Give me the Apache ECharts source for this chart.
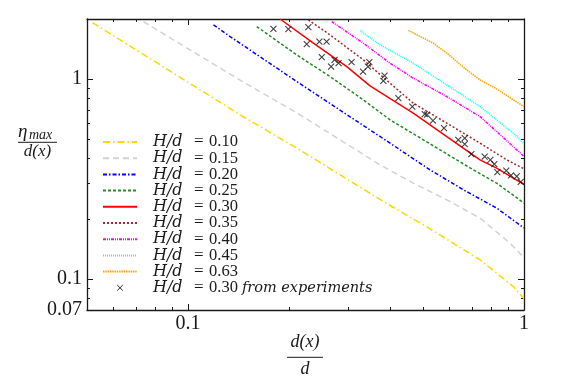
<!DOCTYPE html>
<html><head><meta charset="utf-8">
<script src="https://cdn.jsdelivr.net/npm/echarts@6/dist/echarts.min.js"></script>
<style>html,body{margin:0;padding:0;background:#fff}#c{width:582px;height:388px}</style>
</head><body><div id="c"></div>
<script>
// ---- data ----
const hd010 = [[0.0519,1.919],[0.1429,0.663],[0.2106,0.452],[0.3813,0.2443],[0.5016,0.1869],[0.7396,0.1249],[0.929,0.0918],[1.0,0.080]];
const hd015 = [[0.0736,1.94],[0.1396,1.012],[0.2154,0.663],[0.3727,0.3728],[0.468,0.302],[0.589,0.249],[0.7396,0.2018],[0.908,0.1514],[1.0,0.128]];
const hd020 = [[0.119,1.868],[0.1334,1.633],[0.2106,0.973],[0.3858,0.497],[0.525,0.352],[0.66,0.2796],[0.829,0.2265],[1.0,0.180]];
const hd025 = [[0.1601,1.832],[0.2106,1.323],[0.2647,1.03],[0.3324,0.788],[0.3992,0.626],[0.5623,0.443],[0.7065,0.352],[0.829,0.302],[1.0,0.240]];
const hd030 = [[0.1878,2.0],[0.236,1.514],[0.2967,1.156],[0.348,0.925],[0.468,0.676],[0.589,0.516],[0.7396,0.395],[0.829,0.359],[0.929,0.32],[1.0,0.298]];
const hd035 = [[0.228,1.98],[0.2647,1.665],[0.3324,1.249],[0.3992,0.955],[0.468,0.7586],[0.589,0.6026],[0.7396,0.4786],[0.888,0.395],[1.0,0.356]];
const hd040 = [[0.2677,1.941],[0.3324,1.514],[0.3992,1.202],[0.468,1.012],[0.589,0.8185],[0.7396,0.65],[0.929,0.46],[1.0,0.41]];
const hd045 = [[0.325,1.75],[0.3727,1.484],[0.468,1.202],[0.589,0.936],[0.7396,0.7295],[0.929,0.537],[1.0,0.475]];
const hd063 = [[0.4525,1.754],[0.537,1.514],[0.589,1.349],[0.6753,1.113],[0.7396,0.992],[0.829,0.894],[0.929,0.788],[1.0,0.73]];
const expPoints = [[0.1795,1.785],[0.1988,1.781],[0.228,1.820],[0.2255,1.496],[0.2459,1.542],[0.2584,1.542],[0.25,1.288],[0.2665,1.156],[0.2729,1.249],[0.2805,1.202],[0.3066,1.216],[0.3317,1.091],[0.3432,1.156],[0.3464,1.216],[0.3813,0.9806],[0.3845,1.042],[0.4226,0.8035],[0.4651,0.7295],[0.5064,0.669],[0.5144,0.665],[0.5358,0.620],[0.5779,0.569],[0.6373,0.497],[0.666,0.507],[0.666,0.473],[0.6969,0.422],[0.7638,0.410],[0.794,0.395],[0.8159,0.376],[0.8328,0.343],[0.8857,0.349],[0.9147,0.330],[0.9513,0.326],[0.9777,0.3065]];
const hdLabels = ['0.10','0.15','0.20','0.25','0.30','0.35','0.40','0.45','0.63'];
const expLabel = '0.30';
const xMajorTicks = [0.1, 1];
const xMinorTicks = [0.06,0.07,0.08,0.09,0.2,0.3,0.4,0.5,0.6,0.7,0.8,0.9];
const yMajorTicks = [0.1, 1];
const yMinorTicks = [0.07,0.08,0.09,0.2,0.3,0.4,0.5,0.6,0.7,0.8,0.9];
const xTickLabels = [0.1, 1];
const yTickLabels = [0.07, 0.1, 1];

// ---- styles ----
const curves = [hd010,hd015,hd020,hd025,hd030,hd035,hd040,hd045,hd063];
const curveStyles = [
  {color:'#ffd700', type:[7,3,1.5,3]},
  {color:'#d3d3d3', type:[6,4]},
  {color:'#0000ff', type:[4,2,1.5,2]},
  {color:'#228b22', type:[3,2]},
  {color:'#ff0000', type:'solid'},
  {color:'#a52a2a', type:[2,2]},
  {color:'#ff00ff', type:[3,1,1,1,1,1]},
  {color:'#00ffff', type:[1,1]},
  {color:'#ffa500', type:[1.5,0.8]}
];
const XMIN = 0.05, XMAX = 1, YMIN = 0.07, YMAX = 2;
const serif = 'Liberation Serif';
const mathSerif = 'DejaVu Serif';
const ink = '#1a1a1a';

function mkAxis(pos, min, max, ticks, len, showLine, labelVals, margin) {
  return {
    type:'log', logBase:10, min:min, max:max, position:pos,
    axisLine:{show:showLine, onZero:false, lineStyle:{color:ink, width:1.3}},
    axisTick:{show:true, inside:true, length:len, customValues:ticks, lineStyle:{color:ink, width:1}},
    axisLabel: labelVals ? {show:true, customValues:labelVals, margin:margin,
      formatter:function(v){return String(+Number(v).toPrecision(2));},
      fontFamily:serif, fontSize:20, color:ink} : {show:false},
    splitLine:{show:false}, minorTick:{show:false}, minorSplitLine:{show:false}
  };
}

const crossPath = 'path://M0,0M14,14M4.2,4.2L9.8,9.8M9.8,4.2L4.2,9.8';
const expName = 'H/d = '+expLabel+' from experiments';

const series = curves.map(function(d,i){
  const st = curveStyles[i];
  return {name:'H/d = '+hdLabels[i], type:'line', data:d, symbol:'none', smooth:false,
    lineStyle:{color:st.color, width:1.5, type:st.type}, itemStyle:{color:st.color},
    xAxisIndex:0, yAxisIndex:0, clip:true, silent:true, z:2};
});
series.push({name:expName, type:'scatter', data:expPoints,
  symbol:crossPath, symbolSize:15, xAxisIndex:0, yAxisIndex:0, silent:true, z:3,
  itemStyle:{color:'rgba(0,0,0,0)', borderColor:'#111', borderWidth:1.1}});

const legendData = series.map(function(s){
  return s.type === 'scatter' ? {name:s.name, itemStyle:{opacity:1, borderWidth:0.9, borderColor:'#111'}} : {name:s.name};
});

const chart = echarts.init(document.getElementById('c'), null, {renderer:'canvas'});
chart.setOption({
  animation:false,
  backgroundColor:'#fff',
  grid:{left:87, right:58, top:19, bottom:78, outerBoundsMode:'none', containLabel:false},
  xAxis:[
    mkAxis('bottom', XMIN, XMAX, xMajorTicks, 6, true, xTickLabels, 4),
    mkAxis('top', XMIN, XMAX, xMajorTicks, 6, true, null),
    mkAxis('bottom', XMIN, XMAX, xMinorTicks, 3, false, null),
    mkAxis('top', XMIN, XMAX, xMinorTicks, 3, false, null)
  ],
  yAxis:[
    mkAxis('left', YMIN, YMAX, yMajorTicks, 6, true, yTickLabels, 5),
    mkAxis('right', YMIN, YMAX, yMajorTicks, 6, true, null),
    mkAxis('left', YMIN, YMAX, yMinorTicks, 3, false, null),
    mkAxis('right', YMIN, YMAX, yMinorTicks, 3, false, null)
  ],
  legend:{
    show:true, orient:'vertical', left:102, top:133.5, padding:0,
    itemWidth:34, itemHeight:14, itemGap:-0.8, selectedMode:false,
    data:legendData,
    itemStyle:{opacity:0},
    formatter:function(name){
      const m = name.match(/^H\/d = ([0-9.]+)( from experiments)?$/);
      return '{h|H/d}{e|=}{n|'+m[1]+'}' + (m[2] ? '{f|from experiments}' : '');
    },
    textStyle:{color:ink, lineHeight:14,
      rich:{
        h:{fontFamily:mathSerif, fontStyle:'italic', fontSize:16, width:41, padding:[0,0,0,11], lineHeight:14, color:ink},
        e:{fontFamily:serif, fontSize:17, width:15, lineHeight:14, color:ink},
        n:{fontFamily:serif, fontSize:16.5, lineHeight:14, color:ink},
        f:{fontFamily:mathSerif, fontStyle:'italic', fontSize:14.5, padding:[0,0,0,4], lineHeight:14, color:ink}
      }
    }
  },
  graphic:[
    {type:'text', x:18, y:132, style:{text:'η', font:'italic 19px "Liberation Serif"', fill:ink, align:'left', verticalAlign:'middle'}},
    {type:'text', x:29, y:135, style:{text:'max', font:'italic 14px "Liberation Serif"', fill:ink, align:'left', verticalAlign:'middle'}},
    {type:'line', shape:{x1:18, y1:142.3, x2:57, y2:142.3}, style:{stroke:ink, lineWidth:1}},
    {type:'text', x:37.5, y:152, style:{text:'d(x)', font:'italic 17px "Liberation Serif"', fill:ink, align:'center', verticalAlign:'middle'}},
    {type:'text', x:305, y:342, style:{text:'d(x)', font:'italic 18px "Liberation Serif"', fill:ink, align:'center', verticalAlign:'middle'}},
    {type:'line', shape:{x1:287, y1:357.3, x2:323, y2:357.3}, style:{stroke:ink, lineWidth:1}},
    {type:'text', x:305, y:369, style:{text:'d', font:'italic 18px "Liberation Serif"', fill:ink, align:'center', verticalAlign:'middle'}}
  ],
  series:series
});
</script>
</body></html>
